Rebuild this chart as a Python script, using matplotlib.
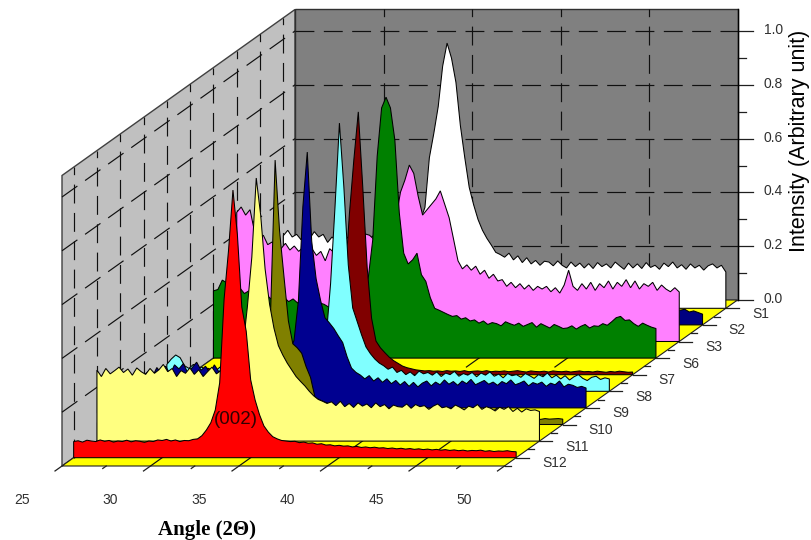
import numpy as np
import matplotlib
matplotlib.use('Agg')
import matplotlib.pyplot as plt

# scan angles shared by all samples (degrees, 0.25 step)
angles = np.arange(25, 50.25, 0.25)

# intensities in thousandths, one row per 2.5 degrees
s1 = [270, 290, 265, 275, 255, 280, 260, 285, 265, 275,
      245, 265, 250, 290, 255, 270, 250, 260, 275, 255,
      265, 280, 260, 275, 265, 285, 270, 290, 275, 280,
      300, 330, 375, 560, 650, 750, 900, 986, 930, 840,
      680, 560, 450, 385, 330, 290, 260, 235, 208, 200,
      190, 205, 180, 195, 170, 188, 165, 178, 160, 175,
      172, 158, 176, 160, 150, 172, 155, 168, 150, 166,
      148, 170, 155, 165, 150, 172, 158, 145, 168, 150,
      165, 148, 170, 152, 160, 145, 168, 155, 172, 150,
      162, 145, 165, 150, 160, 142, 158, 165, 150, 160,
      135]
s2 = [70, 80, 65, 85, 70, 90, 75, 80, 65, 85,
      70, 75, 90, 65, 80, 70, 85, 75, 65, 80,
      85, 70, 75, 90, 80, 70, 85, 90, 95, 100,
      110, 120, 140, 170, 210, 280, 340, 370, 380, 330,
      260, 200, 170, 145, 130, 115, 105, 100, 95, 90,
      85, 90, 80, 85, 75, 82, 78, 72, 80, 70,
      75, 68, 78, 70, 65, 72, 68, 62, 70, 65,
      60, 68, 62, 58, 66, 60, 64, 56, 62, 58,
      60, 54, 62, 56, 60, 52, 58, 55, 60, 52,
      60, 55, 65, 50, 55, 55, 58, 48, 52, 46,
      40]
s3 = [480, 500, 470, 490, 410, 380, 395, 360, 370, 350,
      345, 365, 340, 355, 335, 350, 330, 345, 320, 335,
      300, 345, 330, 350, 360, 345, 375, 390, 370, 400,
      395, 380, 370, 395, 405, 425, 460, 555, 600, 656,
      625, 540, 470, 490, 510, 530, 560, 510, 460, 380,
      300, 270, 285, 265, 280, 250, 265, 235, 250, 225,
      230, 205, 220, 200, 215, 195, 210, 190, 205, 195,
      205, 185, 200, 180, 210, 265, 205, 190, 215, 195,
      220, 190, 215, 200, 225, 195, 220, 205, 230, 200,
      225, 195, 215, 205, 220, 190, 210, 195, 185, 200,
      184]
s6 = [250, 255, 290, 280, 270, 255, 260, 240, 250, 235,
      240, 225, 235, 220, 230, 215, 225, 210, 220, 205,
      215, 200, 210, 195, 205, 200, 190, 205, 195, 210,
      195, 205, 210, 220, 250, 300, 440, 750, 930, 970,
      930, 810, 540, 390, 350, 365, 390, 310, 285, 225,
      185, 178, 170, 162, 155, 158, 145, 150, 138, 142,
      130, 138, 125, 132, 128, 120, 135, 128, 122, 130,
      118, 125, 132, 115, 128, 120, 112, 125, 118, 110,
      112, 120, 108, 118, 125, 112, 120, 118, 128, 122,
      135, 150, 155, 140, 142, 128, 118, 130, 122, 115,
      110]
s7 = [18, 22, 16, 20, 24, 18, 21, 15, 19, 23,
      17, 20, 24, 18, 16, 22, 19, 21, 17, 23,
      20, 16, 22, 18, 24, 19, 21, 25, 23, 28,
      30, 35, 40, 70, 150, 350, 600, 800, 977, 700,
      400, 210, 125, 100, 82, 65, 52, 42, 32, 26,
      22, 18, 16, 14, 15, 13, 14, 12, 15, 13,
      14, 12, 15, 11, 13, 14, 12, 15, 11, 13,
      12, 14, 11, 13, 15, 12, 10, 14, 12, 11,
      13, 10, 14, 12, 11, 13, 10, 12, 14, 11,
      12, 10, 13, 11, 9, 12, 10, 13, 11, 9,
      10]
s8 = [100, 120, 135, 125, 95, 85, 100, 85, 90, 70,
      80, 75, 90, 70, 85, 75, 85, 70, 90, 80,
      75, 85, 70, 90, 80, 85, 75, 90, 85, 95,
      90, 95, 100, 110, 125, 150, 200, 400, 685, 997,
      760, 470, 310, 260, 210, 165, 140, 120, 105, 95,
      82, 90, 70, 78, 62, 72, 58, 75, 65, 70,
      60, 72, 55, 68, 62, 74, 56, 66, 60, 70,
      54, 68, 60, 72, 56, 64, 50, 66, 58, 62,
      52, 66, 58, 48, 62, 54, 68, 50, 60, 46,
      58, 42, 54, 62, 48, 40, 52, 56, 44, 50,
      46]
s9 = [120, 135, 115, 150, 130, 155, 125, 160, 145, 165,
      130, 150, 170, 140, 155, 130, 160, 135, 145, 170,
      150, 130, 155, 140, 160, 135, 150, 145, 155, 160,
      165, 175, 190, 215, 250, 400, 747, 951, 620, 480,
      400, 335, 316, 295, 268, 243, 190, 148, 132, 122,
      108, 120, 100, 112, 95, 108, 90, 102, 85, 98,
      80, 95, 78, 92, 100, 82, 96, 86, 104, 88,
      98, 84, 100, 90, 106, 86, 94, 102, 88, 96,
      84, 98, 90, 104, 86, 92, 100, 82, 94, 88,
      96, 80, 92, 86, 100, 78, 88, 84, 76, 80,
      74]
s10 = [60, 72, 55, 68, 62, 75, 58, 70, 64, 56,
       66, 60, 74, 58, 68, 62, 55, 70, 64, 60,
       72, 58, 66, 62, 75, 60, 68, 64, 72, 80,
       90, 105, 130, 200, 430, 983, 720, 550, 385, 300,
       285, 265, 215, 175, 102, 92, 85, 78, 72, 65,
       58, 52, 47, 43, 40, 36, 34, 31, 30, 28,
       27, 26, 25, 27, 24, 26, 23, 25, 22, 24,
       23, 25, 22, 24, 21, 23, 22, 24, 20, 22,
       23, 21, 22, 24, 20, 22, 21, 23, 20, 22,
       21, 23, 20, 22, 21, 19, 22, 20, 21, 22,
       20]
s11 = [264, 240, 270, 250, 262, 275, 255, 268, 245, 272,
       258, 248, 270, 252, 265, 285, 258, 270, 240, 262,
       252, 272, 248, 265, 240, 258, 275, 250, 262, 270,
       262, 275, 285, 350, 500, 684, 978, 840, 640, 510,
       420, 355, 320, 290, 265, 240, 222, 205, 185, 168,
       155, 148, 140, 146, 132, 148, 128, 140, 125, 142,
       130, 138, 124, 142, 128, 136, 120, 134, 128, 126,
       138, 122, 136, 128, 132, 118, 130, 138, 124, 128,
       120, 134, 126, 116, 130, 124, 136, 118, 128, 122,
       112, 126, 118, 128, 110, 122, 108, 120, 114, 116,
       110]
s12 = [60, 63, 58, 65, 62, 60, 66, 61, 64, 58,
       62, 60, 65, 59, 63, 61, 57, 62, 60, 66,
       64, 68, 62, 66, 60, 64, 63, 68, 70, 82,
       103, 130, 177, 278, 590, 770, 995, 830, 560, 470,
       290, 215, 160, 118, 95, 78, 70, 64, 62, 60,
       61, 56, 58, 54, 55, 50, 52, 47, 48, 44,
       46, 43, 44, 40, 42, 38, 40, 37, 39, 36,
       37, 34, 36, 33, 35, 32, 34, 31, 33, 30,
       32, 29, 31, 28, 30, 27, 29, 26, 28, 25,
       27, 26, 28, 24, 26, 23, 25, 24, 26, 23,
       22]

# back to front
samples = ['S1', 'S2', 'S3', 'S6', 'S7', 'S8', 'S9', 'S10', 'S11', 'S12']
curves = [s1, s2, s3, s6, s7, s8, s9, s10, s11, s12]
colors = ['#FFFFFF', '#000080', '#FF80FF', '#008000', '#800000',
          '#80FFFF', '#000090', '#808000', '#FFFF80', '#FF0000']

angle_ticks = [25, 30, 35, 40, 45, 50]
intensity_ticks = [0.0, 0.2, 0.4, 0.6, 0.8, 1.0]
intensity_top = 1.08

# oblique box in figure pixels
X0, Y0 = 62.0, 466.0
PX_PER_DEG = 17.7
DEPTH_X, DEPTH_Y = 233.0, -166.0
PX_PER_UNIT = 269.0
DASH = (0, (16, 8))
TEXT_GREY = '#303030'


def project(angle, depth, intensity=0.0):
    # angle in degrees, depth 0 (front) to 1 (back), intensity 0 to 1
    x = X0 + (np.asarray(angle, dtype=float) - 25) * PX_PER_DEG + np.asarray(depth) * DEPTH_X
    y = Y0 + np.asarray(depth) * DEPTH_Y - np.asarray(intensity, dtype=float) * PX_PER_UNIT
    return x, y


def line3d(ax, a, d, i, **kw):
    x, y = project(np.array(a), np.array(d), np.array(i))
    ax.plot(x, y, solid_capstyle='butt', **kw)


fig = plt.figure(figsize=(8.11, 5.40), dpi=100)
ax = fig.add_axes([0, 0, 1, 1])
ax.set_xlim(0, 811)
ax.set_ylim(540, 0)
ax.axis('off')

# walls and floor
x, y = project([25, 25, 25, 25], [0, 1, 1, 0], [0, 0, intensity_top, intensity_top])
ax.fill(x, y, facecolor='#C0C0C0', edgecolor='#404040', lw=1.0, zorder=1)
x, y = project([25, 50, 50, 25], 1, [0, 0, intensity_top, intensity_top])
ax.fill(x, y, facecolor='#808080', edgecolor='#303030', lw=1.0, zorder=1)
x, y = project([25, 50, 50, 25], [0, 0, 1, 1])
ax.fill(x, y, facecolor='#FFFF00', edgecolor='#202020', lw=0.8, zorder=1)

# dashed grid
grid = dict(color='#101010', lw=0.85, linestyle=DASH, zorder=2)
for v in intensity_ticks[1:]:
    line3d(ax, [25, 50], [1, 1], [v, v], **grid)
    line3d(ax, [25, 25], [0, 1], [v, v], **grid)
for a in angle_ticks[1:-1]:
    line3d(ax, [a, a], [1, 1], [0, intensity_top], **grid)
    line3d(ax, [a, a], [0, 1], [0, 0], **grid)
for k in range(len(samples)):
    d = (k + 0.5) / len(samples)
    line3d(ax, [25, 25], [d, d], [0, intensity_top], **grid)

# ribbons
for k, (curve, color) in enumerate(zip(curves, colors)):
    d = 1 - (k + 0.5) / len(samples)
    values = np.array(curve) / 1000.0
    x, y = project(angles, d, values)
    bx, by = project([50, 25], [d, d])
    ax.fill(np.r_[x, bx], np.r_[y, by], facecolor=color, edgecolor='black',
            lw=0.75, joinstyle='miter', zorder=3 + k)

top = 20
tick_col = '#202020'

# intensity axis on the right
for v in np.arange(0, 11) / 10:
    x, y = project(50, 1, v)
    length = 15 if round(v * 10) % 2 == 0 else 8
    ax.plot([x, x + length], [y, y], color=tick_col, lw=0.9, zorder=top)
x, y = project([50, 50], 1, [0, intensity_top])
ax.plot(x, y, color='black', lw=1.0, zorder=top)
for v in intensity_ticks:
    x, y = project(50, 1, v)
    ax.text(x + 36, y - 1, '%.1f' % v, ha='center', va='center', fontsize=10,
            family='Liberation Sans', color=TEXT_GREY, zorder=top)
ax.text(800, 141, 'Intensity (Arbitrary unit)', rotation=90, ha='center', va='center',
        fontsize=15.5, family='Liberation Sans', color='black', zorder=top)

# sample axis
n = len(samples)
for k, name in enumerate(samples):
    d = 1 - (k + 0.5) / n
    x, y = project(50, d)
    ax.plot([x, x + 13], [y, y], color=tick_col, lw=0.9, zorder=top)
    ax.text(x + 26, y + 5.5, name, ha='left', va='center', fontsize=10,
            family='Liberation Sans', color=TEXT_GREY, zorder=top)
for k in range(n):
    x, y = project(50, k / n)
    ax.plot([x, x + 6], [y, y], color=tick_col, lw=0.9, zorder=top)

# angle axis
for a in np.arange(25, 50.5, 2.5):
    long_tick = a in angle_ticks
    x, y = project(a, 0)
    t = -0.03 if long_tick else -0.015
    ax.plot([x, x + t * DEPTH_X], [y, y + t * DEPTH_Y], color=tick_col, lw=0.9, zorder=top)
for a in angle_ticks:
    x, y = project(a, 0)
    ax.text(x - 40, 500, str(a), ha='center', va='center', fontsize=10,
            family='Liberation Sans', color=TEXT_GREY, zorder=top)
ax.text(207, 530, 'Angle (2\u0398)', ha='center', va='center', fontsize=15, fontweight='bold',
        family='Liberation Serif', color='black', zorder=top)

# peak annotation
ax.text(236, 420, '(002)', ha='center', va='center', fontsize=13.5,
        family='Liberation Sans', color='#300000', zorder=top)

plt.savefig('out.png', dpi=100)
